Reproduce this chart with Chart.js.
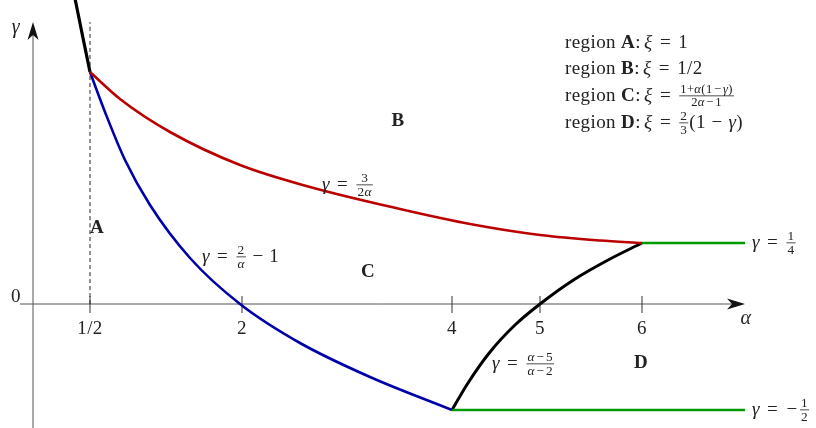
<!DOCTYPE html>
<html>
<head>
<meta charset="utf-8">
<script src="https://cdn.jsdelivr.net/npm/chart.js@4/dist/chart.umd.min.js"></script>
<style>
  body { margin: 0; background: #fff; }
  canvas { display: block; }
</style>
</head>
<body>
<canvas id="diagram" width="816" height="428"></canvas>
<script>
// schematic diagram units (the axes are not drawn to scale in the original)
const xTicks = [0.50, 2.02, 4.12, 5.00, 6.02];
const xTickLabels = ['1/2', '2', '4', '5', '6'];

// gamma = 3/(2 alpha), boundary of region B
const curveRed = [[0.50,2.32],[0.80,2.05],[1.30,1.72],[2.00,1.39],[2.70,1.17],[3.60,0.95],[4.30,0.80],[5.00,0.69],[5.60,0.635],[6.02,0.61]];
// gamma = 2/alpha - 1
const curveBlue = [[0.50,2.32],[0.65,1.92],[0.85,1.44],[1.10,0.99],[1.50,0.46],[2.00,0.00],[2.60,-0.39],[3.30,-0.73],[4.12,-1.06]];
// gamma = (alpha-5)/(alpha-2)
const curveBlack = [[4.12,-1.06],[4.28,-0.79],[4.50,-0.48],[4.75,-0.21],[5.00,0.00],[5.35,0.25],[5.70,0.45],[6.02,0.61]];
const curveTop = [[0.345,3.08],[0.43,2.66],[0.50,2.32]];
const greenQuarter = [[6.02,0.61],[7.05,0.61]];
const greenHalf = [[4.12,-1.06],[7.05,-1.06]];
const dashA = [[0.50,0],[0.50,2.82]];

const toXY = arr => arr.map(p => ({x: p[0], y: p[1]}));

const FAM = '"Liberation Serif", "DejaVu Serif", serif';
const TXT = '#222';

function fontFor(st, size) {
  if (st === 'i') return 'italic ' + size + 'px ' + FAM;
  if (st === 'b') return 'bold ' + size + 'px ' + FAM;
  return size + 'px ' + FAM;
}

function measure(ctx, toks, size) {
  let w = 0;
  for (const t of toks) {
    if (typeof t === 'number') w += t * size;
    else if (typeof t === 'string') {
      ctx.font = fontFor(t[0], size);
      w += ctx.measureText(t.slice(2)).width;
    } else {
      const fs = size * t.k;
      w += Math.max(measure(ctx, t.n, fs), measure(ctx, t.d, fs)) + 4;
    }
  }
  return w;
}

function drawMath(ctx, toks, x, y, size, align) {
  ctx.letterSpacing = '0.4px';
  if (align === 'center') x -= measure(ctx, toks, size) / 2;
  ctx.textBaseline = 'alphabetic';
  ctx.textAlign = 'left';
  for (const t of toks) {
    if (typeof t === 'number') x += t * size;
    else if (typeof t === 'string') {
      ctx.font = fontFor(t[0], size);
      ctx.fillText(t.slice(2), x, y);
      x += ctx.measureText(t.slice(2)).width;
    } else {
      const fs = size * t.k;
      const nw = measure(ctx, t.n, fs), dw = measure(ctx, t.d, fs);
      const fw = Math.max(nw, dw);
      const barY = y - size * 0.27;
      ctx.fillRect(x + 1, barY - 0.4, fw + 2, 0.8);
      drawMath(ctx, t.n, x + 2 + (fw - nw) / 2, barY - 2.5, fs);
      drawMath(ctx, t.d, x + 2 + (fw - dw) / 2, barY + 1.5 + fs * 0.7, fs);
      x += fw + 4;
    }
  }
}

const diagramPlugin = {
  id: 'diagram',
  beforeDatasetsDraw(chart) {
    const ctx = chart.ctx;
    const sx = chart.scales.x, sy = chart.scales.y;
    const y0 = sy.getPixelForValue(0);
    const xAxisStart = sx.getPixelForValue(-0.20), xAxisEnd = sx.getPixelForValue(7.05);
    const yAxisX = sx.getPixelForValue(-0.07);
    const yAxisTop = sy.getPixelForValue(2.82);
    ctx.save();
    ctx.strokeStyle = '#555';
    ctx.fillStyle = '#111';
    ctx.lineWidth = 1;
    ctx.beginPath();
    ctx.moveTo(xAxisStart, y0); ctx.lineTo(xAxisEnd - 6, y0);
    ctx.moveTo(yAxisX, chart.height); ctx.lineTo(yAxisX, yAxisTop + 6);
    ctx.stroke();
    // arrow heads
    ctx.beginPath();
    ctx.moveTo(xAxisEnd, y0);
    ctx.lineTo(xAxisEnd - 18, y0 - 5.5);
    ctx.lineTo(xAxisEnd - 13, y0);
    ctx.lineTo(xAxisEnd - 18, y0 + 5.5);
    ctx.closePath();
    ctx.fill();
    ctx.beginPath();
    ctx.moveTo(yAxisX, yAxisTop);
    ctx.lineTo(yAxisX - 5.5, yAxisTop + 18);
    ctx.lineTo(yAxisX, yAxisTop + 13);
    ctx.lineTo(yAxisX + 5.5, yAxisTop + 18);
    ctx.closePath();
    ctx.fill();
    // ticks
    ctx.strokeStyle = '#333';
    ctx.fillStyle = TXT;
    xTicks.forEach((v, i) => {
      const px = sx.getPixelForValue(v);
      ctx.beginPath();
      ctx.moveTo(px, y0 - 8); ctx.lineTo(px, y0 + 9);
      ctx.stroke();
      drawMath(ctx, ['r:' + xTickLabels[i]], px, y0 + 30, 19, 'center');
    });
    ctx.restore();
  },
  afterDatasetsDraw(chart) {
    const ctx = chart.ctx;
    ctx.save();
    ctx.fillStyle = TXT;
    const S = 19;
    // axis labels
    drawMath(ctx, ['r:0'], 16, 302, S, 'center');
    drawMath(ctx, ['i:γ'], 16, 33, 20, 'center');
    drawMath(ctx, ['i:α'], 746, 324, 20, 'center');
    // region letters
    drawMath(ctx, ['b:A'], 97, 233, S, 'center');
    drawMath(ctx, ['b:B'], 398, 126, S, 'center');
    drawMath(ctx, ['b:C'], 368, 277, S, 'center');
    drawMath(ctx, ['b:D'], 641, 368, S, 'center');
    // curve labels
    const eq = ['i:γ', 0.38, 'r:=', 0.38];
    const mn = [0.12, 'r:−', 0.12];
    drawMath(ctx, eq.concat([{n: ['r:3'], d: ['r:2', 'i:α'], k: 0.7}]), 322, 190, S);
    drawMath(ctx, eq.concat([{n: ['r:2'], d: ['i:α'], k: 0.7}, 0.3, 'r:−', 0.3, 'r:1']), 202, 262, S);
    drawMath(ctx, eq.concat([{n: ['i:α'].concat(mn, ['r:5']), d: ['i:α'].concat(mn, ['r:2']), k: 0.7}]), 492, 369, S);
    drawMath(ctx, eq.concat([{n: ['r:1'], d: ['r:4'], k: 0.7}]), 752, 248, S);
    drawMath(ctx, eq.concat([0.05, 'r:−', 0.08, {n: ['r:1'], d: ['r:2'], k: 0.7}]), 752, 415, S);
    // legend
    const lx = 565;
    const head = L => ['r:region ', 'b:' + L, 'r::', 0.17, 'i:ξ', 0.38, 'r:=', 0.38];
    drawMath(ctx, head('A').concat(['r:1']), lx, 48, S);
    drawMath(ctx, head('B').concat(['r:1/2']), lx, 74, S);
    drawMath(ctx, head('C').concat([{n: ['r:1+', 'i:α', 'r:(1'].concat(mn, ['i:γ', 'r:)']), d: ['r:2', 'i:α'].concat(mn, ['r:1']), k: 0.66}]), lx, 101, S);
    drawMath(ctx, head('D').concat([{n: ['r:2'], d: ['r:3'], k: 0.7}, 'r:(1', 0.3, 'r:−', 0.3, 'i:γ', 'r:)']), lx, 128, S);
    ctx.restore();
  }
};

const lineDs = (pts, color, width, extra) => Object.assign({
  data: toXY(pts),
  showLine: true,
  borderColor: color,
  borderWidth: width,
  pointRadius: 0,
  cubicInterpolationMode: 'monotone',
  fill: false
}, extra || {});

new Chart(document.getElementById('diagram'), {
  type: 'scatter',
  data: {
    datasets: [
      lineDs(dashA, '#222', 1, {borderDash: [4, 3]}),
      lineDs(curveRed, '#bb0000', 2.6),
      lineDs(curveBlue, '#0000aa', 2.6),
      lineDs(greenQuarter, '#009a00', 2.6),
      lineDs(greenHalf, '#009a00', 2.6),
      lineDs(curveBlack, '#000', 3),
      lineDs(curveTop, '#000', 3.2)
    ]
  },
  options: {
    responsive: false,
    animation: false,
    layout: { padding: 0 },
    plugins: { legend: { display: false }, tooltip: { enabled: false } },
    scales: {
      x: { type: 'linear', min: -0.40, max: 7.76, display: false },
      y: { type: 'linear', min: -1.24, max: 3.04, display: false }
    }
  },
  plugins: [diagramPlugin]
});
</script>
</body>
</html>
